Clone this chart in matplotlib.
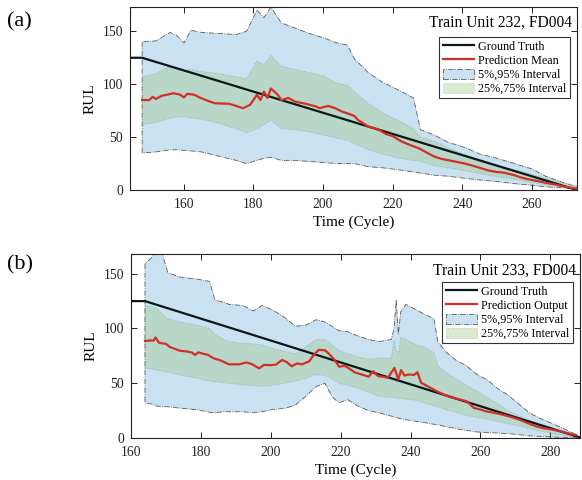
import numpy as np
import matplotlib
matplotlib.use("Agg")
import matplotlib.pyplot as plt
from matplotlib.lines import Line2D
from matplotlib.patches import Patch

plt.rcParams['font.family'] = ['Liberation Serif', 'DejaVu Serif']
plt.rcParams['mathtext.fontset'] = 'stix'

# ---------------- panel (a): Train Unit 232 ----------------
t_a = [148, 152, 156, 158, 160, 162, 165, 170, 175, 178,
       181, 183, 185, 188, 192, 196, 200, 204, 207, 209,
       213, 217, 222, 226, 228, 232, 236, 241, 245, 250,
       255, 260, 264, 269, 273]
hi95_a = [140, 141, 149, 146, 139, 151, 149, 148, 147, 150,
          170, 163, 173, 158, 153, 148, 144, 139, 137, 124,
          111, 102, 94, 87, 57, 52, 45, 40, 34, 30,
          25, 20, 13, 7, 3]
lo95_a = [35, 36, 38, 38, 37.5, 37, 36, 32, 28, 25,
          28, 30, 31, 28, 28, 27, 26, 25, 25, 25,
          22, 21, 19, 17, 16, 14, 13, 11, 9.5, 8,
          6, 4.5, 3, 2, 1.5]
hi75_a = [107, 110, 117, 114, 113, 114, 112, 110, 107, 105,
          122, 118, 127, 117, 114, 111, 108, 101, 99, 93,
          82, 73, 65, 58, 50, 46, 40, 33, 29, 23,
          19, 15, 11, 7, 4]
lo75_a = [61.5, 64, 68, 69, 69.4, 68, 67, 63, 58, 54,
          58, 62, 66, 58, 57, 55, 52, 49, 47, 44,
          38, 34, 30, 28, 27, 23, 21, 18, 15.5, 12.5,
          10, 7, 5, 3, 2]

t_ma = [148, 150, 151, 152, 153.5, 155, 157, 159, 160, 161,
        163, 164.5, 167.5, 169, 173, 175, 177, 179, 181, 182,
        183, 184, 185, 187, 188, 190, 192, 195, 198, 199,
        201.5, 203.5, 205.5, 207, 209, 210, 213, 216, 218, 220,
        222.5, 225, 227.5, 230, 232, 234, 237, 240, 242.5, 245,
        247.5, 250, 252, 255, 257, 260, 262, 264.5, 266.5, 269,
        271, 273]
mean_a = [85, 85, 88, 86, 89, 90, 91.5, 90, 87.5, 91,
          90, 87.5, 83.5, 82, 81.5, 79.5, 77.3, 80.5, 90, 85,
          93, 87, 96, 90, 85, 87, 83.5, 81.5, 79, 77.3,
          79.5, 77.3, 74, 72.5, 70, 66.3, 60, 57, 53, 51,
          46, 42.5, 39.5, 35, 31.6, 29.5, 27.5, 25.5, 23.5, 21,
          18.5, 17, 16.4, 14, 11.7, 9.5, 8.2, 6.5, 5.4, 3.5,
          2.2, 1]

gt_t_a = [144.5, 148, 273]
gt_a = [125, 125, 0]

# ---------------- panel (b): Train Unit 233 ----------------
t_b = [164, 166, 167.5, 169, 170.5, 174, 179, 182.5, 184, 186.5,
       188, 192, 195, 197.5, 200.5, 204, 207, 210, 213, 215.5,
       217.5, 219.5, 222, 225, 228, 231, 234.5, 235.3, 235.9, 236.5,
       237.2, 238.7, 241, 244, 246.7, 247.8, 250, 253, 256, 259,
       262, 265, 268, 271, 274, 277, 280, 283.5, 287.5]
hi95_b = [159, 165, 172, 168, 151, 147, 145, 143, 126, 124,
          122, 121, 116, 121, 117, 110, 102, 103, 108, 106,
          102, 98, 97, 93, 90, 88, 90, 100, 126, 95,
          115, 122, 118, 113, 109, 88, 79, 71, 66, 58,
          53, 45, 39, 31, 23, 18, 14, 9, 3]
lo95_b = [32, 31, 29, 29, 28.5, 27.3, 25.8, 23.5, 23, 24,
          24, 24, 23, 24, 26, 27, 30, 38, 47, 50,
          38, 32, 35, 29, 25, 23, 20, 19, 19, 18,
          17.5, 16.7, 15.5, 14, 12.5, 12, 10.5, 8.5, 7, 5.5,
          5, 4.5, 4, 3, 2, 1.5, 1, 0.5, 0]
hi75_b = [121, 120, 118, 113, 109, 106, 103, 100, 95, 90,
          88, 86.5, 86, 85, 82, 79, 77, 83, 90, 90,
          85, 80, 77, 74, 72, 73, 73, 89, 80, 77,
          92, 90, 86, 83, 78, 66, 60, 54, 48, 43,
          37, 31, 25, 20, 16, 13, 10, 6, 2.5]
lo75_b = [63.6, 63, 62, 61, 60, 57.6, 54.5, 52, 51.5, 50.5,
          50, 48.5, 48, 47, 48, 50, 52, 54.5, 58, 57,
          54, 50, 48, 45.4, 42, 38, 37, 37, 36.5, 36.4,
          36, 35.5, 34.8, 32, 29.5, 28.5, 26, 23.5, 20.5, 19,
          17, 15, 13, 11, 8.5, 6.5, 4.5, 2.5, 0.8]

t_mb = [164, 165.5, 166.5, 167, 168, 169, 170, 171, 172, 174,
        176, 177.5, 178.3, 179.3, 180.5, 182, 183.5, 185.5, 188, 191,
        193, 194.5, 196.7, 198, 200, 201.5, 203.2, 204.5, 206, 207.5,
        209, 211, 212.3, 213.7, 215.6, 217, 218.3, 219.6, 221, 222.2,
        224, 226, 228, 229.3, 230.7, 232, 233.5, 235.4, 236.5, 237.3,
        238.3, 239.5, 241, 242, 243, 245, 247.7, 250, 252.4, 255,
        256.2, 258.1, 260, 261.8, 264, 266.5, 269, 271.2, 274, 276,
        278, 280.7, 283, 285.5, 287.5]
mean_b = [88.5, 89, 89, 91.8, 87, 86.4, 86, 83.3, 82, 79.7,
          79, 78, 75.8, 78.2, 77, 76, 73, 71, 67.3, 67.3,
          69, 67.5, 63.6, 66.7, 66.5, 67, 71.2, 69.5, 65.5, 68,
          67.3, 70, 75.8, 80.5, 80, 75.8, 71.2, 65, 66, 64,
          60, 58, 56, 61, 56.5, 56, 55, 64, 53.5, 62,
          57, 58, 57.6, 60, 50.5, 47, 42.4, 39, 36.4, 34.5,
          33.3, 27.5, 26, 24.2, 23, 21.2, 19, 16.7, 13, 10.6,
          9, 7.6, 6, 4, 2.5]

gt_t_b = [160, 164, 289]
gt_b = [125, 125, 0]

blue = '#c9e1f1'
green = (0.60, 0.78, 0.50)
edge = '#5a5a5a'
red = '#d12f27'
black = '#0b1716'


def draw(ax, t, hi95, lo95, hi75, lo75, tm, mean, gtt, gt, mean_label, title,
         xlim, ylim, xticks, leg_anchor, title_pos):
    ax.fill_between(t, lo95, hi95, facecolor=blue, edgecolor=edge,
                    linestyle='-.', linewidth=0.6, zorder=1)
    ax.fill_between(t, lo75, hi75, facecolor=green, alpha=0.35,
                    edgecolor=edge, linestyle=':', linewidth=0.7, zorder=2)
    ax.plot(gtt, gt, color=black, lw=1.6, zorder=3)
    ax.plot(tm, mean, color=red, lw=1.6, zorder=4)
    ax.set_xlim(*xlim)
    ax.set_ylim(*ylim)
    ax.set_xticks(xticks)
    ax.set_yticks([0, 50, 100, 150])
    ax.tick_params(direction='in', top=True, right=True, length=4,
                   width=0.7, labelsize=9.8, colors='#222222')
    ax.tick_params(axis='x', pad=6)
    ax.tick_params(axis='y', pad=5)
    for s in ax.spines.values():
        s.set_linewidth(0.8)
        s.set_color('#222222')
    ax.set_xlabel('Time (Cycle)', fontsize=11, labelpad=3)
    ax.set_ylabel('RUL', fontsize=11, labelpad=4)
    ax.text(title_pos[0], title_pos[1], title, transform=ax.transAxes,
            ha='right', va='baseline', fontsize=11.2)
    handles = [Line2D([], [], color=black, lw=1.6),
               Line2D([], [], color=red, lw=1.6),
               Patch(facecolor=blue, edgecolor=edge, linestyle='-.', linewidth=0.6),
               Patch(facecolor=green, alpha=0.35, edgecolor=edge, linestyle=':', linewidth=0.7)]
    labels = ['Ground Truth', mean_label, '5%,95% Interval', '25%,75% Interval']
    leg = ax.legend(handles, labels, loc='upper right', bbox_to_anchor=leg_anchor,
                    fontsize=8.7, fancybox=False, framealpha=1, edgecolor='#333333',
                    handlelength=2.6, handleheight=0.9, handletextpad=0.3,
                    borderpad=0.3, labelspacing=0.15, borderaxespad=0)
    leg.get_frame().set_linewidth(0.8)


fig = plt.figure(figsize=(5.82, 4.8), dpi=100)
ax1 = fig.add_axes([130 / 582, 1 - 190 / 480, 447 / 582, 183 / 480])
ax2 = fig.add_axes([131 / 582, 1 - 438 / 480, 449 / 582, 184 / 480])

draw(ax1, t_a, hi95_a, lo95_a, hi75_a, lo75_a, t_ma, mean_a, gt_t_a, gt_a,
     'Prediction Mean', 'Train Unit 232, FD004', (144.5, 273), (0, 173),
     [160, 180, 200, 220, 240, 260], (0.984, 0.836), (0.989, 0.89))
draw(ax2, t_b, hi95_b, lo95_b, hi75_b, lo75_b, t_mb, mean_b, gt_t_b, gt_b,
     'Prediction Output', 'Train Unit 233, FD004', (160, 288.5), (0, 168),
     [160, 180, 200, 220, 240, 260, 280], (0.984, 0.848), (0.991, 0.886))

fig.text(7 / 582, 1 - 22 / 480, '(a)', fontsize=16, va='center', ha='left')
fig.text(7 / 582, 1 - 265 / 480, '(b)', fontsize=16, va='center', ha='left')

fig.savefig('out.png', dpi=100)
